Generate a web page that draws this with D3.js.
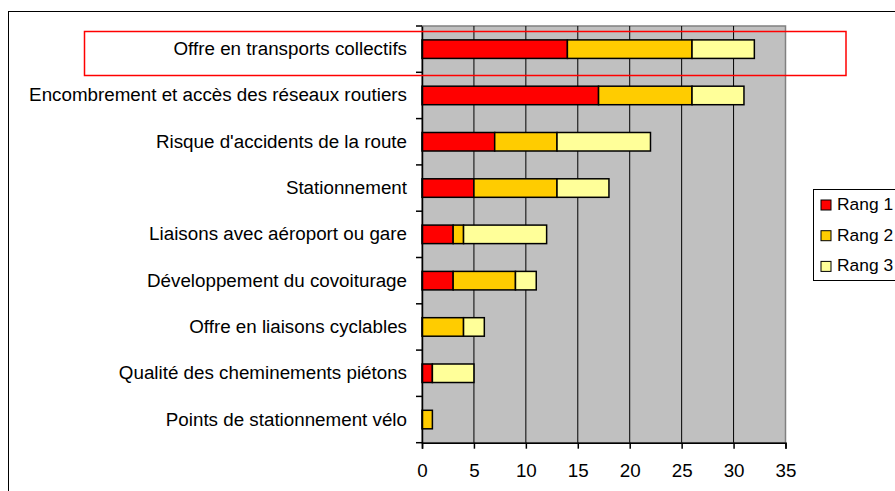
<!DOCTYPE html>
<html>
<head>
<meta charset="utf-8">
<script src="https://cdn.jsdelivr.net/npm/d3@7"></script>
<style>
  html, body { margin: 0; padding: 0; background: #fff; }
  svg { display: block; font-family: "Liberation Sans", Arial, sans-serif; }
</style>
</head>
<body>
<svg id="chart" width="895" height="491"></svg>
<script>
// Criteria, ranked: how many times each was cited at rank 1, 2 and 3
const categories = [
  "Offre en transports collectifs",
  "Encombrement et accès des réseaux routiers",
  "Risque d'accidents de la route",
  "Stationnement",
  "Liaisons avec aéroport ou gare",
  "Développement du covoiturage",
  "Offre en liaisons cyclables",
  "Qualité des cheminements piétons",
  "Points de stationnement vélo"
];
const rang1 = [14, 17, 7, 5, 3, 3, 0, 1, 0];
const rang2 = [12, 9, 6, 8, 1, 6, 4, 0, 1];
const rang3 = [6, 5, 9, 5, 8, 2, 2, 4, 0];
const seriesNames = ["Rang 1", "Rang 2", "Rang 3"];
const seriesColors = ["#FF0000", "#FFCC00", "#FFFF99"];
const xTicks = [0, 5, 10, 15, 20, 25, 30, 35];

const FONT = 18.8;
const LEGEND_FONT = 17.4;
const svg = d3.select("#chart");
const plot = { left: 422, top: 26, right: 785.5, bottom: 442.7 };

const rows = categories.map((c, i) => ({ cat: c, "Rang 1": rang1[i], "Rang 2": rang2[i], "Rang 3": rang3[i] }));
const stacked = d3.stack().keys(seriesNames)(rows);

const x = d3.scaleLinear().domain([0, 35]).range([plot.left, plot.right]);
const y = d3.scaleBand().domain(categories).range([plot.top, plot.bottom]).paddingInner(0.6).paddingOuter(0.3);
const yBand = d3.scaleBand().domain(categories).range([plot.top, plot.bottom]);

// outer chart frame
svg.append("rect")
  .attr("x", 8.5).attr("y", 11.5).attr("width", 1000).attr("height", 1000)
  .attr("fill", "#fff").attr("stroke", "#000").attr("stroke-width", 1);

// plot area
svg.append("rect")
  .attr("x", plot.left).attr("y", plot.top)
  .attr("width", plot.right - plot.left).attr("height", plot.bottom - plot.top)
  .attr("fill", "#C0C0C0").attr("stroke", "#808080").attr("stroke-width", 1.5);

// vertical gridlines
svg.append("g").selectAll("line")
  .data(xTicks.filter(t => t > 0 && t < 35))
  .join("line")
  .attr("x1", d => x(d)).attr("x2", d => x(d))
  .attr("y1", plot.top).attr("y2", plot.bottom)
  .attr("stroke", "#000").attr("stroke-width", 1);

// stacked bars
svg.append("g").selectAll("g")
  .data(stacked)
  .join("g")
  .attr("fill", (d, i) => seriesColors[i])
  .selectAll("rect")
  .data(d => d.filter(s => s[1] - s[0] > 0))
  .join("rect")
  .attr("x", d => x(d[0]))
  .attr("y", d => y(d.data.cat))
  .attr("width", d => x(d[1]) - x(d[0]))
  .attr("height", y.bandwidth())
  .attr("stroke", "#000").attr("stroke-width", 1.5);

// category axis
const yAxis = d3.axisLeft(yBand).tickSize(0).tickPadding(15);
const gy = svg.append("g").attr("transform", `translate(${plot.left},0)`).call(yAxis);
gy.select(".domain").attr("stroke", "#000").attr("stroke-width", 1.5);
gy.selectAll("text").attr("font-size", FONT).attr("fill", "#000")
  .attr("font-family", "'Liberation Sans', Arial, sans-serif");
// category separators as outside ticks
svg.append("g").selectAll("line")
  .data(d3.range(categories.length + 1))
  .join("line")
  .attr("x1", plot.left - 6).attr("x2", plot.left)
  .attr("y1", i => i < categories.length ? yBand(categories[i]) : plot.bottom)
  .attr("y2", i => i < categories.length ? yBand(categories[i]) : plot.bottom)
  .attr("stroke", "#000").attr("stroke-width", 1.5);

// value axis
const xAxis = d3.axisBottom(x).tickValues(xTicks).tickSize(6).tickPadding(14.5);
const gx = svg.append("g").attr("transform", `translate(0,${plot.bottom})`).call(xAxis);
gx.select(".domain").attr("stroke", "#000").attr("stroke-width", 1.5);
gx.selectAll(".tick line").attr("stroke", "#000").attr("stroke-width", 1.5);
gx.selectAll("text").attr("font-size", FONT).attr("fill", "#000")
  .attr("font-family", "'Liberation Sans', Arial, sans-serif");

// legend
const lg = svg.append("g");
lg.append("rect").attr("x", 813.5).attr("y", 189.5).attr("width", 200).attr("height", 91)
  .attr("fill", "#fff").attr("stroke", "#000").attr("stroke-width", 1);
const items = lg.selectAll("g.item").data(seriesNames).join("g")
  .attr("transform", (d, i) => `translate(821,${204 + i * 30.7})`);
items.append("rect").attr("x", 0).attr("y", -4).attr("width", 10).attr("height", 10)
  .attr("fill", (d, i) => seriesColors[i]).attr("stroke", "#000").attr("stroke-width", 1);
items.append("text").attr("x", 16).attr("y", 0).attr("dy", "0.35em")
  .attr("font-size", LEGEND_FONT).attr("fill", "#000").text(d => d);

// highlight around the first criterion
svg.append("rect")
  .attr("x", 84.5).attr("y", 31.5).attr("width", 846 - 84.5).attr("height", 44)
  .attr("fill", "none").attr("stroke", "#FF0000").attr("stroke-width", 1.5);
</script>
</body>
</html>
